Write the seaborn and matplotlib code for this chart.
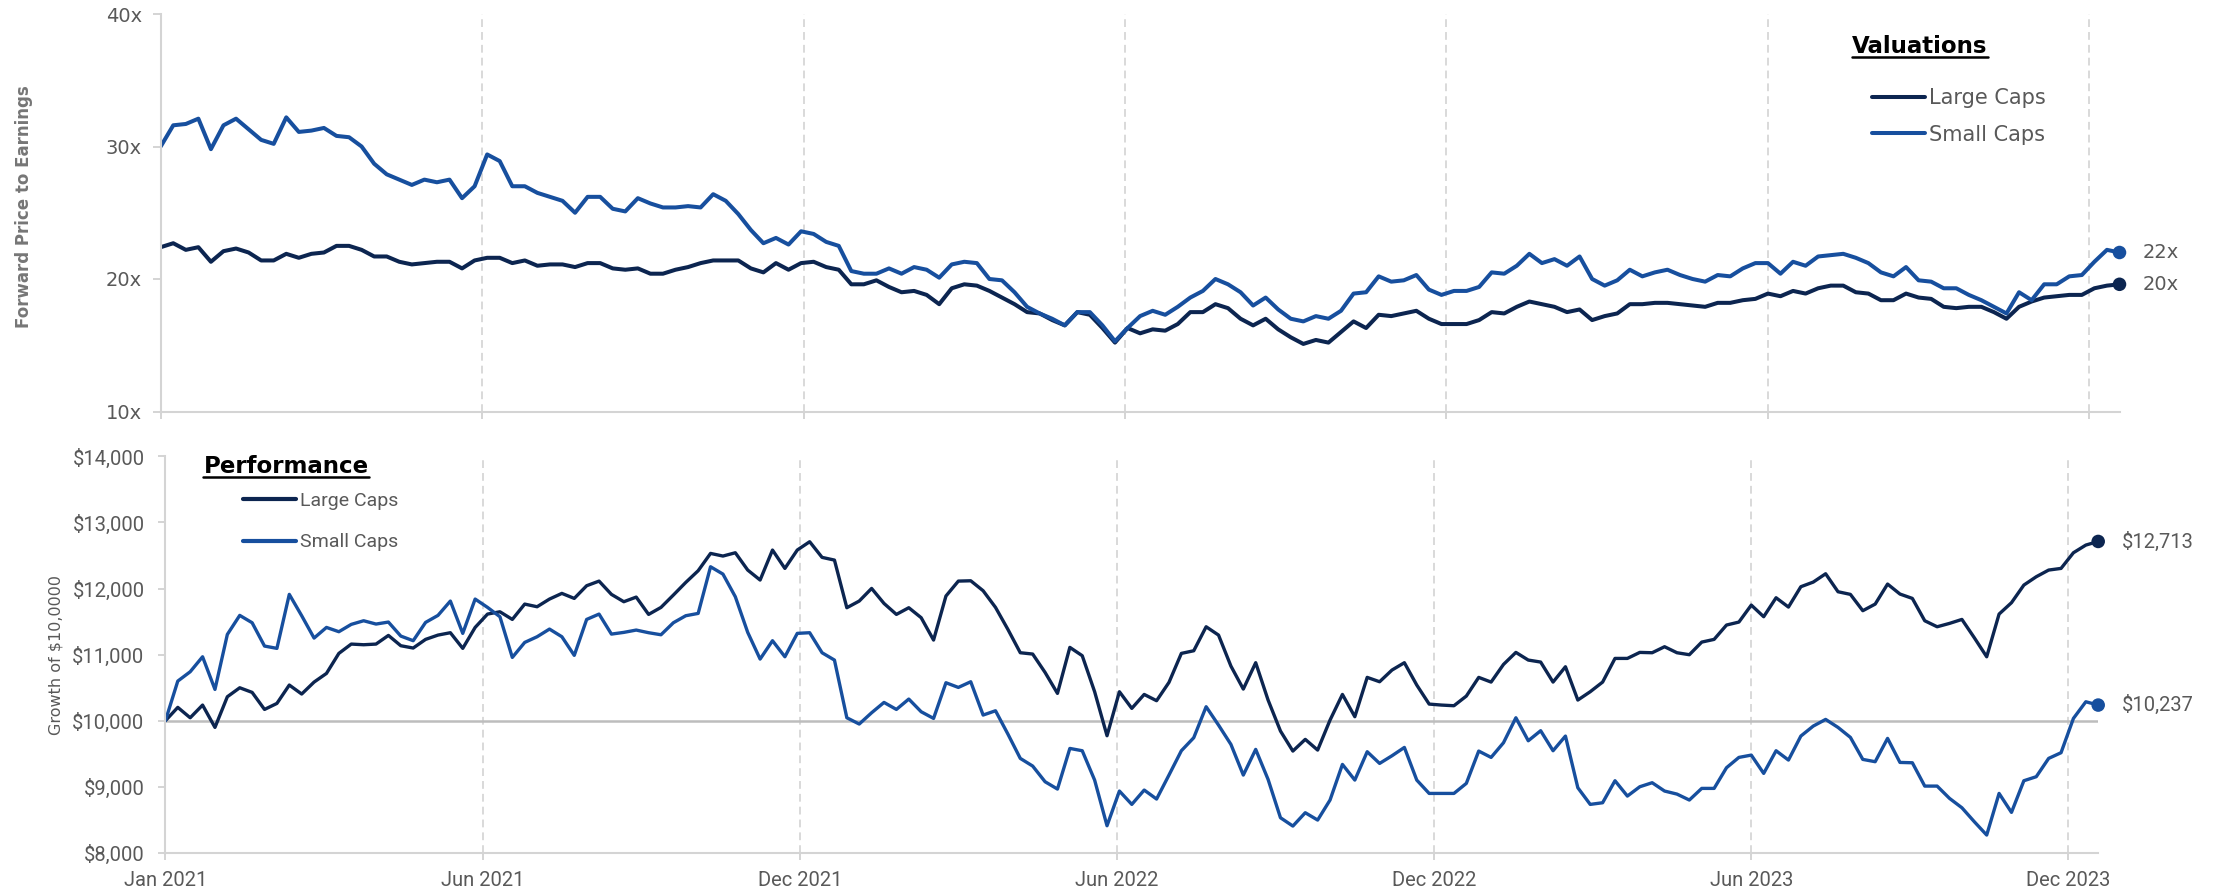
import numpy as np
import pandas as pd
import matplotlib
matplotlib.use("Agg")
import matplotlib.pyplot as plt
import seaborn as sns
from matplotlib.lines import Line2D

# ------------------------------------------------------------------ data
series_names = ["Large Caps", "Small Caps"]
x_tick_labels = ["Jan 2021", "Jun 2021", "Dec 2021", "Jun 2022", "Dec 2022", "Jun 2023", "Dec 2023"]
pe_tick_values = [10, 20, 30, 40]
pe_tick_labels = ["10x", "20x", "30x", "40x"]
growth_tick_values = [8000, 9000, 10000, 11000, 12000, 13000, 14000]
growth_tick_labels = ["$8,000", "$9,000", "$10,000", "$11,000", "$12,000", "$13,000", "$14,000"]
growth_base = 10000

pe_large = [
    22.4, 22.7, 22.2, 22.4, 21.3, 22.1, 22.3, 22.0, 21.4, 21.4, 21.9, 21.6, 21.9, 22.0, 22.5, 22.5,
    22.2, 21.7, 21.7, 21.3, 21.1, 21.2, 21.3, 21.3, 20.8, 21.4, 21.6, 21.6, 21.2, 21.4, 21.0, 21.1,
    21.1, 20.9, 21.2, 21.2, 20.8, 20.7, 20.8, 20.4, 20.4, 20.7, 20.9, 21.2, 21.4, 21.4, 21.4, 20.8,
    20.5, 21.2, 20.7, 21.2, 21.3,
    20.9, 20.7, 19.6, 19.6, 19.9, 19.4, 19.0, 19.1, 18.8, 18.1, 19.3, 19.6, 19.5, 19.1, 18.6, 18.1,
    17.5, 17.4, 16.9, 16.5, 17.5, 17.3, 16.3, 15.2, 16.3, 15.9, 16.2, 16.1, 16.6, 17.5, 17.5, 18.1,
    17.8, 17.0, 16.5, 17.0, 16.2, 15.6, 15.1, 15.4, 15.2, 16.0, 16.8, 16.3, 17.3, 17.2, 17.4, 17.6,
    17.0, 16.6, 16.6, 16.6,
    16.9, 17.5, 17.4, 17.9, 18.3, 18.1, 17.9, 17.5, 17.7, 16.9, 17.2, 17.4, 18.1, 18.1, 18.2, 18.2,
    18.1, 18.0, 17.9, 18.2, 18.2, 18.4, 18.5, 18.9, 18.7, 19.1, 18.9, 19.3, 19.5, 19.5, 19.0, 18.9,
    18.4, 18.4, 18.9, 18.6, 18.5, 17.9, 17.8, 17.9, 17.9, 17.5, 17.0, 17.9, 18.3, 18.6, 18.7, 18.8,
    18.8, 19.3, 19.5, 19.6,
]
pe_small = [
    30.0, 31.6, 31.7, 32.1, 29.8, 31.6, 32.1, 31.3, 30.5, 30.2, 32.2, 31.1, 31.2, 31.4, 30.8, 30.7,
    30.0, 28.7, 27.9, 27.5, 27.1, 27.5, 27.3, 27.5, 26.1, 27.0, 29.4, 28.9, 27.0, 27.0, 26.5, 26.2,
    25.9, 25.0, 26.2, 26.2, 25.3, 25.1, 26.1, 25.7, 25.4, 25.4, 25.5, 25.4, 26.4, 25.9, 24.9, 23.7,
    22.7, 23.1, 22.6, 23.6, 23.4,
    22.8, 22.5, 20.6, 20.4, 20.4, 20.8, 20.4, 20.9, 20.7, 20.1, 21.1, 21.3, 21.2, 20.0, 19.9, 19.0,
    17.9, 17.4, 17.0, 16.5, 17.5, 17.5, 16.5, 15.3, 16.3, 17.2, 17.6, 17.3, 17.9, 18.6, 19.1, 20.0,
    19.6, 19.0, 18.0, 18.6, 17.7, 17.0, 16.8, 17.2, 17.0, 17.6, 18.9, 19.0, 20.2, 19.8, 19.9, 20.3,
    19.2, 18.8, 19.1, 19.1,
    19.4, 20.5, 20.4, 21.0, 21.9, 21.2, 21.5, 21.0, 21.7, 20.0, 19.5, 19.9, 20.7, 20.2, 20.5, 20.7,
    20.3, 20.0, 19.8, 20.3, 20.2, 20.8, 21.2, 21.2, 20.4, 21.3, 21.0, 21.7, 21.8, 21.9, 21.6, 21.2,
    20.5, 20.2, 20.9, 19.9, 19.8, 19.3, 19.3, 18.8, 18.4, 17.9, 17.4, 19.0, 18.4, 19.6, 19.6, 20.2,
    20.3, 21.3, 22.2, 22.0,
]
growth_large = [
    10000, 10202, 10045, 10237, 9899, 10363, 10499, 10429, 10171, 10262, 10540, 10404, 10585, 10716,
    11019, 11160, 11150, 11160, 11291, 11135, 11100, 11231, 11296, 11332, 11095, 11412, 11614, 11649,
    11533, 11765, 11725, 11841, 11927, 11851, 12043, 12113, 11912, 11801, 11871, 11609, 11715, 11902,
    12093, 12270, 12532, 12492, 12542, 12280, 12129, 12583, 12305, 12583, 12709,
    12472, 12431, 11710, 11811, 12002, 11775, 11609, 11710, 11559, 11221, 11887, 12113, 12118, 11967,
    11715, 11382, 11029, 11009, 10731, 10414, 11110, 10984, 10439, 9773, 10439, 10187, 10398, 10303,
    10580, 11019, 11059, 11422, 11296, 10827, 10479, 10878, 10313, 9844, 9541, 9718, 9556, 10010,
    10398, 10061, 10656, 10590, 10767, 10878, 10540, 10252, 10237, 10227,
    10373, 10656, 10585, 10852, 11034, 10918, 10888, 10585, 10817, 10313, 10439, 10585, 10943, 10943,
    11034, 11029, 11120, 11029, 10999, 11190, 11231, 11448, 11493, 11750, 11574, 11861, 11720, 12028,
    12098, 12224, 11952, 11912, 11665, 11765, 12068, 11917, 11851, 11513, 11422, 11473, 11533, 11256,
    10968, 11614, 11786, 12053, 12179, 12280, 12305, 12542, 12658, 12713,
]
growth_small = [
    10000, 10600, 10741, 10968, 10474, 11306, 11594, 11483, 11130, 11095, 11912, 11589, 11251, 11412,
    11347, 11458, 11513, 11463, 11493, 11281, 11211, 11488, 11594, 11811, 11322, 11841, 11715, 11574,
    10958, 11185, 11271, 11387, 11271, 10989, 11533, 11614, 11311, 11337, 11372, 11332, 11301, 11483,
    11589, 11624, 12330, 12219, 11876, 11337, 10933, 11211, 10968, 11322, 11332,
    11029, 10918, 10045, 9950, 10121, 10277, 10171, 10328, 10136, 10035, 10575, 10504, 10590, 10086,
    10151, 9798, 9430, 9314, 9077, 8966, 9581, 9546, 9102, 8411, 8936, 8734, 8951, 8815,
    9178, 9546, 9743, 10212, 9934, 9642, 9178, 9566, 9112, 8532, 8406, 8608, 8497, 8800,
    9339, 9102, 9531, 9354, 9470, 9596, 9102, 8900, 8900, 8900,
    9052, 9541, 9445, 9667, 10045, 9697, 9849, 9546, 9768, 8986, 8734, 8759, 9092, 8860,
    9001, 9062, 8936, 8890, 8800, 8976, 8976, 9289, 9445, 9480, 9203, 9546, 9405, 9768,
    9919, 10020, 9899, 9748, 9415, 9380, 9733, 9369, 9364, 9011, 9011, 8825, 8683, 8472,
    8270, 8900, 8613, 9092, 9153, 9430, 9516, 10035, 10287, 10237,
]

# ------------------------------------------------------------------ style
W, H, DPI = 2218, 893, 100
COLORS = {"Large Caps": "#0c2550", "Small Caps": "#174f9e"}
AXIS_GRAY = "#d4d4d4"
GRID_GRAY = "#d9d9d9"
TEXT_GRAY = "#595959"
TICK_STEP = 25.6  # weeks between 6-month labels

sns.set_theme(style="white")
plt.rcParams["font.family"] = ["DejaVu Sans"]

N = len(pe_large)
week = np.arange(N)
tick_pos = np.arange(len(x_tick_labels)) * TICK_STEP

df_pe = pd.DataFrame({
    "week": np.concatenate([week, week]),
    "value": pe_large + pe_small,
    "series": [series_names[0]] * N + [series_names[1]] * N,
})
df_gr = pd.DataFrame({
    "week": np.concatenate([week, week]),
    "value": growth_large + growth_small,
    "series": [series_names[0]] * N + [series_names[1]] * N,
})

fig = plt.figure(figsize=(W / DPI, H / DPI), dpi=DPI)
ax1 = fig.add_axes([160.7 / W, 1 - 411.5 / H, (2119.5 - 160.7) / W, (411.5 - 14) / H])
ax2 = fig.add_axes([165.4 / W, 1 - 852.9 / H, (2098.2 - 165.4) / W, (852.9 - 456.4) / H])


def style_axis(ax):
    for s in ["top", "right"]:
        ax.spines[s].set_visible(False)
    for s in ["left", "bottom"]:
        ax.spines[s].set_color(AXIS_GRAY)
        ax.spines[s].set_linewidth(1.5)
    ax.set_xlim(0, N - 1)
    ax.set_xticks(tick_pos)
    ax.xaxis.grid(True, color=GRID_GRAY, linewidth=1.4, linestyle=(0, (4, 2.6)))
    ax.yaxis.grid(False)
    ax.set_axisbelow(True)
    ax.tick_params(axis="both", which="major", bottom=True, left=True, direction="out",
                   length=5, width=1.4, color=AXIS_GRAY, labelcolor=TEXT_GRAY)
    ax.set_xlabel("")
    ax.set_ylabel("")


# ---------------- top panel: valuations
sns.lineplot(data=df_pe, x="week", y="value", hue="series", hue_order=series_names,
             palette=COLORS, linewidth=2.9, estimator=None, errorbar=None, ax=ax1)
last_pe = df_pe[df_pe["week"] == N - 1]
sns.scatterplot(data=last_pe, x="week", y="value", hue="series", hue_order=series_names,
                palette=COLORS, s=95, linewidth=0, legend=False, ax=ax1, zorder=6, clip_on=False)
style_axis(ax1)
ax1.set_ylim(10, 40)
ax1.set_yticks(pe_tick_values, pe_tick_labels)
ax1.tick_params(axis="x", labelbottom=False)
ax1.tick_params(axis="y", labelsize=14, pad=8, length=5.5)
for _, r in last_pe.iterrows():
    ax1.annotate(f"{r['value']:.0f}x", xy=(r["week"], r["value"]), xytext=(17, 0),
                 textcoords="offset points", ha="left", va="center", fontsize=14,
                 color=TEXT_GRAY, annotation_clip=False)
sns.move_legend(ax1, "upper left", bbox_to_anchor=(1872 / W, 1 - 88 / H),
                bbox_transform=fig.transFigure, frameon=False, title=None, fontsize=15,
                handlelength=2.55, handletextpad=0.2, labelspacing=0.8, borderpad=0,
                borderaxespad=0)
for t in ax1.get_legend().get_texts():
    t.set_color(TEXT_GRAY)

# ---------------- bottom panel: performance
ax2.axhline(growth_base, color="#bdbdbd", linewidth=1.8, zorder=1.5)
sns.lineplot(data=df_gr, x="week", y="value", hue="series", hue_order=series_names,
             palette=COLORS, linewidth=2.4, estimator=None, errorbar=None, ax=ax2)
last_gr = df_gr[df_gr["week"] == N - 1]
sns.scatterplot(data=last_gr, x="week", y="value", hue="series", hue_order=series_names,
                palette=COLORS, s=95, linewidth=0, legend=False, ax=ax2, zorder=6, clip_on=False)
style_axis(ax2)
ax2.set_ylim(8000, 14000)
ax2.set_yticks(growth_tick_values, growth_tick_labels)
ax2.set_xticklabels(x_tick_labels)
for lab in ax2.get_xticklabels() + ax2.get_yticklabels():
    lab.set_fontfamily("Roboto")
    lab.set_fontsize(14.5)
ax2.tick_params(axis="y", pad=10, length=5)
ax2.tick_params(axis="x", pad=8)
for _, r in last_gr.iterrows():
    ax2.annotate(f"${r['value']:,.0f}", xy=(r["week"], r["value"]), xytext=(17, 0),
                 textcoords="offset points", ha="left", va="center", fontsize=14.5,
                 family="Roboto", color=TEXT_GRAY, annotation_clip=False)
sns.move_legend(ax2, "upper left", bbox_to_anchor=(243 / W, 1 - 492 / H),
                bbox_transform=fig.transFigure, frameon=False, title=None,
                prop={"family": "Roboto", "size": 14},
                handlelength=2.7, handletextpad=0.25, labelspacing=1.2, borderpad=0,
                borderaxespad=0)
for t in ax2.get_legend().get_texts():
    t.set_color(TEXT_GRAY)
for h in ax2.get_legend().legend_handles:
    h.set_linewidth(3.0)

# ---------------- axis titles
fig.text(24 / W, 1 - 207 / H, "Forward Price to Earnings", rotation=90, ha="center",
         va="center", fontsize=12, fontweight="bold", color="#767676")
fig.text(56 / W, 1 - 655 / H, "Growth of $10,0000", rotation=90, ha="center",
         va="center", fontsize=11.5, color=TEXT_GRAY)


def underlined_title(x_px, baseline_px, text, size):
    t = fig.text(x_px / W, 1 - baseline_px / H, text, ha="center", va="baseline",
                 fontsize=size, fontweight="bold", color="black")
    fig.canvas.draw()
    bb = t.get_window_extent()
    y = 1 - (baseline_px + 4) / H
    fig.add_artist(Line2D([bb.x0 / W, bb.x1 / W], [y, y], transform=fig.transFigure,
                          color="black", linewidth=1.8))


underlined_title(1920, 53, "Valuations", 16.5)
underlined_title(286, 473, "Performance", 16.5)

fig.savefig("out.png", dpi=DPI)
